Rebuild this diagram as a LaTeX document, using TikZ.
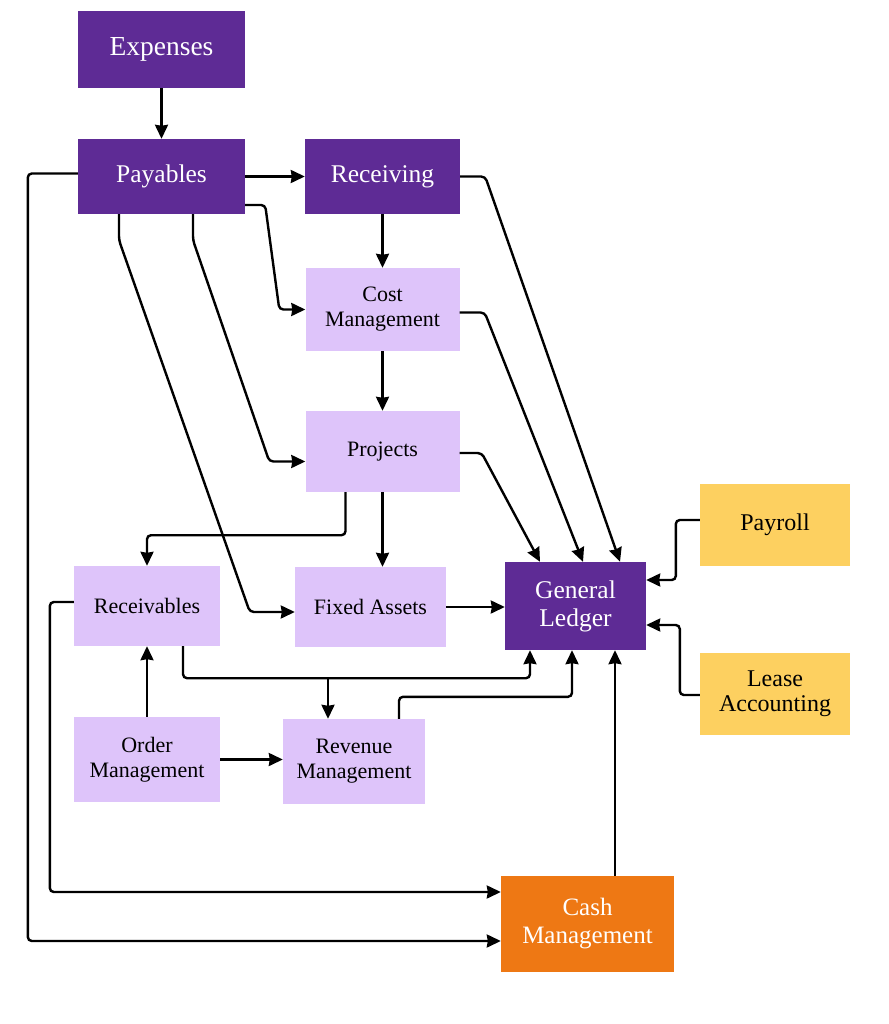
\documentclass[tikz,border=0pt]{standalone}
\usepackage{fontspec}
\setmainfont{Liberation Serif}
\usepackage{tikz}
\usetikzlibrary{ % tikz packages
    positioning,
    arrows.meta
}
\definecolor{darkpurple}{HTML}{5E2B95}
\definecolor{lightpurple}{HTML}{DEC4FA}
\definecolor{sunyellow}{HTML}{FDD060}
\definecolor{cashorange}{HTML}{EE7814}
\tikzset{module/.style={
    rectangle,
    inner sep=0pt,
    align=center
}}
\tikzset{darkbox/.style={module, fill=darkpurple, text=white,
    font=\fontsize{25.5}{28}\selectfont}}
\tikzset{lightbox/.style={module, fill=lightpurple, text=black,
    font=\fontsize{22}{25}\selectfont}}
\tikzset{yellowbox/.style={module, fill=sunyellow, text=black,
    font=\fontsize{24}{25}\selectfont}}
\tikzset{orangebox/.style={module, fill=cashorange, text=white,
    font=\fontsize{25}{28}\selectfont}}
\tikzset{flow/.style={line width=2.4pt, rounded corners=4pt}}
\tikzset{>={Stealth[length=14pt,width=13pt,inset=1pt]}}

\begin{document}
\begin{tikzpicture}[x=1pt,y=-1pt,on grid]
        \useasboundingbox[fill=white] (0,0) rectangle (888,1024);

        \node[darkbox, minimum width=167pt, minimum height=77pt,
            font=\fontsize{27.5}{30}\selectfont] (expenses) at (161.5,49.5) {Expenses};
        \node[darkbox, minimum width=167pt, minimum height=75pt] (payables) [below=127pt of expenses] {Payables};
        \node[darkbox, minimum width=155pt, minimum height=75pt] (receiving) [right=221pt of payables] {Receiving};
        \node[lightbox, minimum width=154pt, minimum height=83pt] (costmgmt) [below=133pt of receiving] {Cost\\Management};
        \node[lightbox, minimum width=154pt, minimum height=81pt] (projects) [below=142pt of costmgmt] {Projects};

        \node[lightbox, minimum width=146pt, minimum height=80pt] (receivables) at (147,606) {Receivables};
        \node[lightbox, minimum width=151pt, minimum height=80pt] (fixedassets) at (370.5,607) {Fixed Assets};
        \node[darkbox, minimum width=141pt, minimum height=88pt] (ledger) at (575.5,606) {General\\Ledger};
        \node[yellowbox, minimum width=150pt, minimum height=82pt] (payroll) at (775,525) {Payroll};
        \node[yellowbox, minimum width=150pt, minimum height=82pt] (lease) [below=169pt of payroll] {Lease\\Accounting};
        \node[lightbox, minimum width=146pt, minimum height=85pt] (ordermgmt) [below=153.5pt of receivables] {Order\\Management};
        \node[lightbox, minimum width=142pt, minimum height=85pt] (revenuemgmt) at (354,761.5) {Revenue\\Management};
        \node[orangebox, minimum width=173pt, minimum height=96pt] (cashmgmt) at (587.5,924) {Cash\\Management};

        % expenses and payables
        \draw[flow,->] (expenses) -- (payables);
        \draw[flow,->] (payables) -- (receiving);
        \draw[flow,->] ([yshift=3pt]payables.west) -- ++(-50,0) |- ([yshift=-17pt]cashmgmt.west);
        \draw[flow,->] ([yshift=-28.5pt]payables.east) -- ++(20,0)
            -- ([xshift=-26pt]costmgmt.west) -- (costmgmt.west);
        \draw[flow,->] ([xshift=31.5pt]payables.south) -- ++(0,26)
            -- ([xshift=-36pt,yshift=-10pt]projects.west) -- ([yshift=-10pt]projects.west);
        \draw[flow,->] ([xshift=-42.5pt]payables.south) -- ++(0,26)
            -- ([xshift=-45pt,yshift=-5pt]fixedassets.west) -- ([yshift=-5pt]fixedassets.west);

        % down the middle
        \draw[flow,->] (receiving) -- (costmgmt);
        \draw[flow,->] (costmgmt) -- (projects);
        \draw[flow,->] (projects.south) -- (projects.south |- fixedassets.north);
        \draw[flow,->] ([xshift=-37pt]projects.south) -- ++(0,43) -| (receivables.north);

        % into the general ledger
        \draw[flow,->] (receiving.east) -- ++(25,0) -- ([xshift=44.5pt]ledger.north);
        \draw[flow,->] ([yshift=-3pt]costmgmt.east) -- ++(25,0) -- ([xshift=7.5pt]ledger.north);
        \draw[flow,->] ([yshift=-1.5pt]projects.east) -- ++(22,0) -- ([xshift=-35.5pt]ledger.north);
        \draw[flow,->] (fixedassets.east) -- (fixedassets.east -| ledger.west);
        \draw[flow,->] ([yshift=5pt]payroll.west) -- ++(-24,0) |- ([yshift=26pt]ledger.east);
        \draw[flow,->] ([yshift=-1pt]lease.west) -- ++(-20,0) |- ([yshift=-19pt]ledger.east);
        \draw[flow,->] ([xshift=36pt]receivables.south) -- ++(0,32) -| ([xshift=-45.5pt]ledger.south);
        \draw[flow,->] ([xshift=-26pt,yshift=41pt]revenuemgmt.north) -- ([xshift=-26pt]revenuemgmt.north);
        \draw[flow,->] ([xshift=45pt]revenuemgmt.north) -- ++(0,-22) -| ([xshift=-3.5pt]ledger.south);
        \draw[flow,->] ([xshift=27.5pt]cashmgmt.north) -- ([xshift=27.5pt]cashmgmt.north |- ledger.south);

        % orders
        \draw[flow,->] (ordermgmt) -- (receivables);
        \draw[flow,->] (ordermgmt.east) -- (ordermgmt.east -| revenuemgmt.west);
        \draw[flow,->] ([yshift=4pt]receivables.west) -- ++(-24,0) |- ([yshift=32pt]cashmgmt.west);
    \end{tikzpicture}
\end{document}
